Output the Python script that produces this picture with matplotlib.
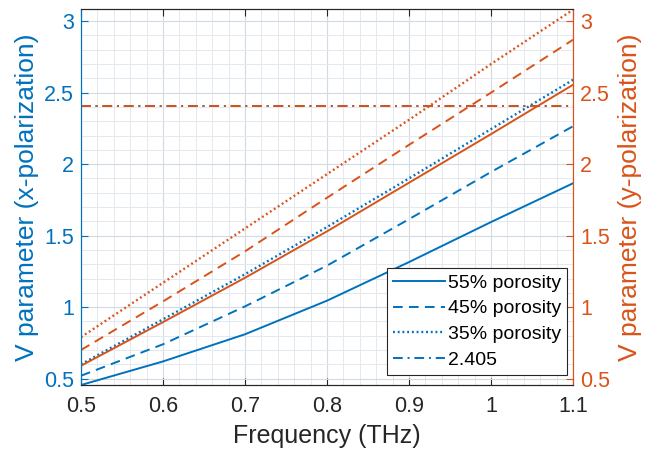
import numpy as np
import matplotlib
matplotlib.use("Agg")
import matplotlib.pyplot as plt
from matplotlib.ticker import MultipleLocator

plt.rcParams['font.family'] = ['Liberation Sans', 'DejaVu Sans']

# values
freq = [0.5, 0.6, 0.7, 0.8, 0.9, 1.0, 1.1]

# x-polarization (left axis)
vx_55 = [0.455, 0.62, 0.81, 1.045, 1.315, 1.595, 1.866]
vx_45 = [0.52, 0.74, 1.005, 1.29, 1.615, 1.945, 2.265]
vx_35 = [0.60, 0.915, 1.23, 1.56, 1.90, 2.245, 2.59]

# y-polarization (right axis)
vy_55 = [0.59, 0.895, 1.205, 1.53, 1.87, 2.21, 2.555]
vy_45 = [0.70, 1.04, 1.39, 1.765, 2.135, 2.50, 2.87]
vy_35 = [0.79, 1.17, 1.55, 1.93, 2.31, 2.70, 3.08]

cutoff = 2.405
freq_span = [0.5, 1.1]
labels = ['55% porosity', '45% porosity', '35% porosity', '2.405']

blue = '#0072BD'
orange = '#D95319'
dark = '#262626'
lw = 1.4

fig = plt.figure(figsize=(6.45, 4.55), dpi=100)
ax = fig.add_axes([0.1256, 0.1538, 0.7628, 0.8264])
ax2 = ax.twinx()

h1, = ax.plot(freq, vx_55, '-', color=blue, lw=lw)
h2, = ax.plot(freq, vx_45, '--', color=blue, lw=lw, dashes=(5, 3.2))
h3, = ax.plot(freq, vx_35, ':', color=blue, lw=lw + 0.3, dashes=(0.8, 1.2))
h4, = ax.plot(freq_span, [cutoff, cutoff], '-.', color=blue, lw=lw, dashes=(5, 2.5, 1, 2.5))

ax2.plot(freq, vy_55, '-', color=orange, lw=lw)
ax2.plot(freq, vy_45, '--', color=orange, lw=lw, dashes=(5, 3.2))
ax2.plot(freq, vy_35, ':', color=orange, lw=lw + 0.3, dashes=(0.8, 1.2))
ax2.plot(freq_span, [cutoff, cutoff], '-.', color=orange, lw=lw, dashes=(5, 2.5, 1, 2.5))

ylim = (0.455, 3.085)
for a in (ax, ax2):
    a.set_xlim(0.5, 1.1)
    a.set_ylim(*ylim)
    a.set_yticks([0.5, 1, 1.5, 2, 2.5, 3])
    a.set_yticklabels(['0.5', '1', '1.5', '2', '2.5', '3'])

ax.set_xticks([0.5, 0.6, 0.7, 0.8, 0.9, 1.0, 1.1])
ax.set_xticklabels(['0.5', '0.6', '0.7', '0.8', '0.9', '1', '1.1'])
ax.xaxis.set_minor_locator(MultipleLocator(0.02))
ax.yaxis.set_minor_locator(MultipleLocator(0.1))

# grid
ax.grid(True, which='major', color='#d2dae3', lw=0.8)
ax.grid(True, which='minor', color='#e3e9ef', lw=0.7)
ax.set_axisbelow(True)

# ticks
ax.tick_params(axis='x', which='major', direction='in', length=5, top=True,
               labelsize=15.5, colors=dark, pad=8)
ax.tick_params(axis='x', which='minor', length=0)
ax.tick_params(axis='y', which='major', direction='in', length=5,
               labelsize=15.5, colors=blue, pad=5)
ax.tick_params(axis='y', which='minor', length=0)
ax2.tick_params(axis='y', which='major', direction='in', length=5,
                labelsize=15.5, colors=orange, pad=5)

# spines
for a in (ax, ax2):
    a.spines['top'].set_color(dark)
    a.spines['bottom'].set_color(dark)
    a.spines['left'].set_color(blue)
    a.spines['right'].set_color(orange)

ax.set_xlabel('Frequency (THz)', fontsize=18, color=dark, labelpad=5)
ax.set_ylabel('V parameter (x-polarization)', fontsize=19, color=blue, labelpad=4)
ax2.set_ylabel('V parameter (y-polarization)', fontsize=19, color=orange,
               labelpad=6, rotation=90)

leg = ax2.legend([h1, h2, h3, h4], labels, loc='lower right',
                 bbox_to_anchor=(0.988, 0.027), borderaxespad=0,
                 fontsize=14, fancybox=False, framealpha=1,
                 edgecolor=dark, handlelength=2.7, handletextpad=0.15,
                 labelspacing=0.42, borderpad=0.3)
leg.get_frame().set_linewidth(0.8)

fig.savefig('out.png', dpi=100)
